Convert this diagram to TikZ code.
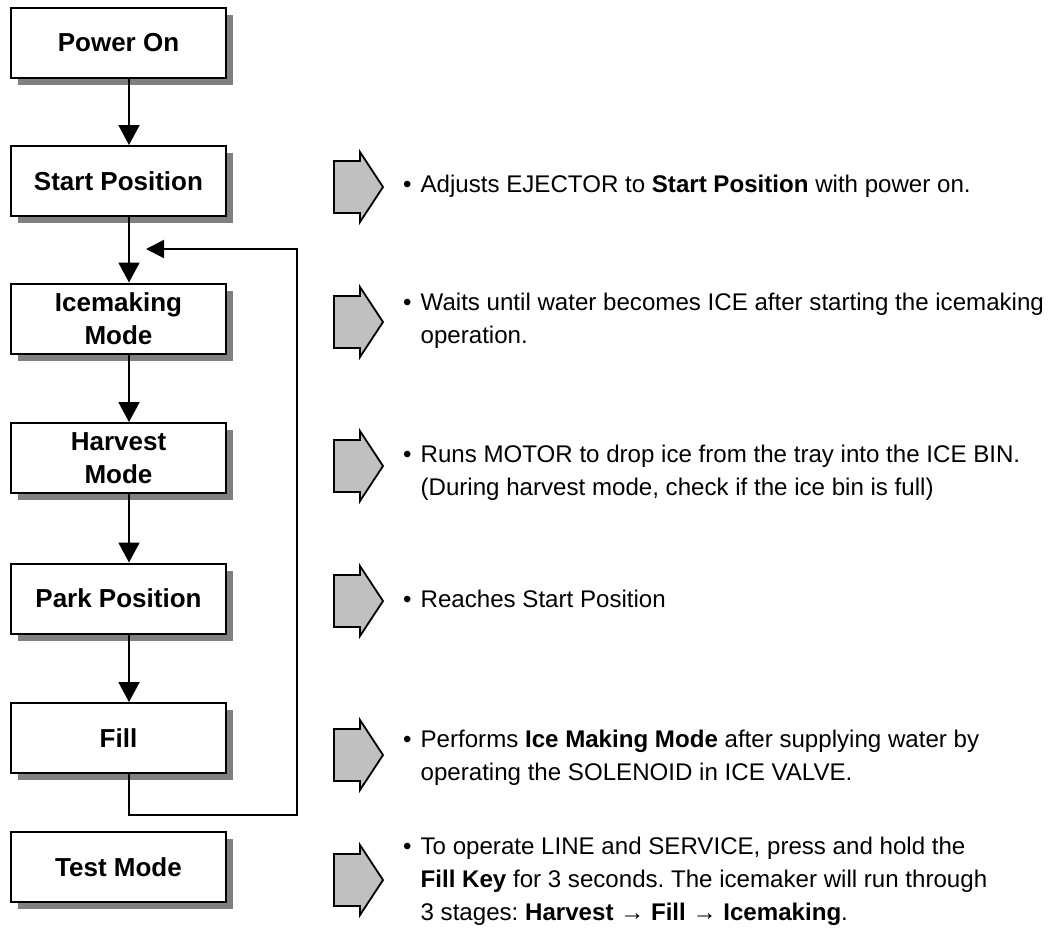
\documentclass[tikz,border=0pt]{standalone}
\usepackage{fontspec}
\setmainfont{Liberation Sans}
\usetikzlibrary{arrows.meta,shadows}
\definecolor{shadowgray}{HTML}{808080}
\definecolor{arrowgray}{HTML}{C0C0C0}
\frenchspacing
\begin{document}
\begin{tikzpicture}[x=1pt,y=-1pt,
  flowbox/.style={draw, line width=2pt, fill=white, minimum width=215pt, minimum height=70pt,
    align=center, inner sep=0pt, font=\fontsize{26}{33}\selectfont\bfseries,
    general shadow={fill=shadowgray, shadow xshift=7pt, shadow yshift=-7pt}},
  flowarrow/.style={line width=2pt, -{Triangle[length=20pt,width=21pt]}},
  looparrow/.style={line width=2pt, -{Triangle[length=18pt,width=18pt]}},
  desc/.style={anchor=west, inner sep=0pt, font=\fontsize{24.1}{33}\selectfont},
  sidearrow/.pic={\draw[line width=1.8pt, fill=arrowgray, line join=miter]
     (-49,-26) -- (-23,-26) -- (-23,-35) -- (0,0) -- (-23,35) -- (-23,26) -- (-49,26) -- cycle;}
]
\useasboundingbox (0,0) rectangle (1051,930);
\coordinate (col) at (129,0);

\node[flowbox] (power) at (118.5,43) {Power On};
\node[flowbox] (start) at (118.5,181) {Start Position};
\node[flowbox] (ice) at (118.5,318.5) {Icemaking\\Mode};
\node[flowbox] (harv) at (118.5,458) {Harvest\\Mode};
\node[flowbox] (park) at (118.5,598.5) {Park Position};
\node[flowbox] (fill) at (118.5,738) {Fill};
\node[flowbox] (test) at (118.5,867) {Test Mode};

\draw[flowarrow] (power.south -| col) -- (start.north -| col);
\draw[flowarrow] (start.south -| col) -- (ice.north -| col);
\draw[flowarrow] (ice.south -| col) -- (harv.north -| col);
\draw[flowarrow] (harv.south -| col) -- (park.north -| col);
\draw[flowarrow] (park.south -| col) -- (fill.north -| col);

\coordinate (loopbot) at (297,815);
\coordinate (looptop) at (297,249);
\coordinate (loopend) at (146,249);
\draw[looparrow] (fill.south -| col) |- (loopbot) -- (looptop) -- (loopend);

\pic at (383,187) {sidearrow};
\pic at (383,322) {sidearrow};
\pic at (383,466) {sidearrow};
\pic at (383,601) {sidearrow};
\pic at (383,755) {sidearrow};
\pic at (383,880) {sidearrow};

\newcommand{\bul}{\textbullet}
\newcommand{\bcols}{@{}l@{\hspace{9pt}}l@{}}
\node[desc] (d1) at (403,186) {\begin{tabular}{\bcols}\bul & Adjusts EJECTOR to \textbf{Start Position} with power on.\end{tabular}};
\node[desc] (d2) at (403,320) {\begin{tabular}{\bcols}\bul & Waits until water becomes ICE after starting the icemaking\\ & operation.\end{tabular}};
\node[desc] (d3) at (403,472) {\begin{tabular}{\bcols}\bul & Runs MOTOR to drop ice from the tray into the ICE BIN.\\ & (During harvest mode, check if the ice bin is full)\end{tabular}};
\node[desc] (d4) at (403,601) {\begin{tabular}{\bcols}\bul & Reaches Start Position\end{tabular}};
\node[desc] (d5) at (403,757) {\begin{tabular}{\bcols}\bul & Performs \textbf{Ice Making Mode} after supplying water by\\ & operating the SOLENOID in ICE VALVE.\end{tabular}};
\node[desc] (d6) at (403,881) {\begin{tabular}{\bcols}\bul & To operate LINE and SERVICE, press and hold the\\ & \textbf{Fill Key} for 3 seconds. The icemaker will run through\\ & 3 stages: \textbf{Harvest} → \textbf{Fill} → \textbf{Icemaking}.\end{tabular}};
\end{tikzpicture}
\end{document}
